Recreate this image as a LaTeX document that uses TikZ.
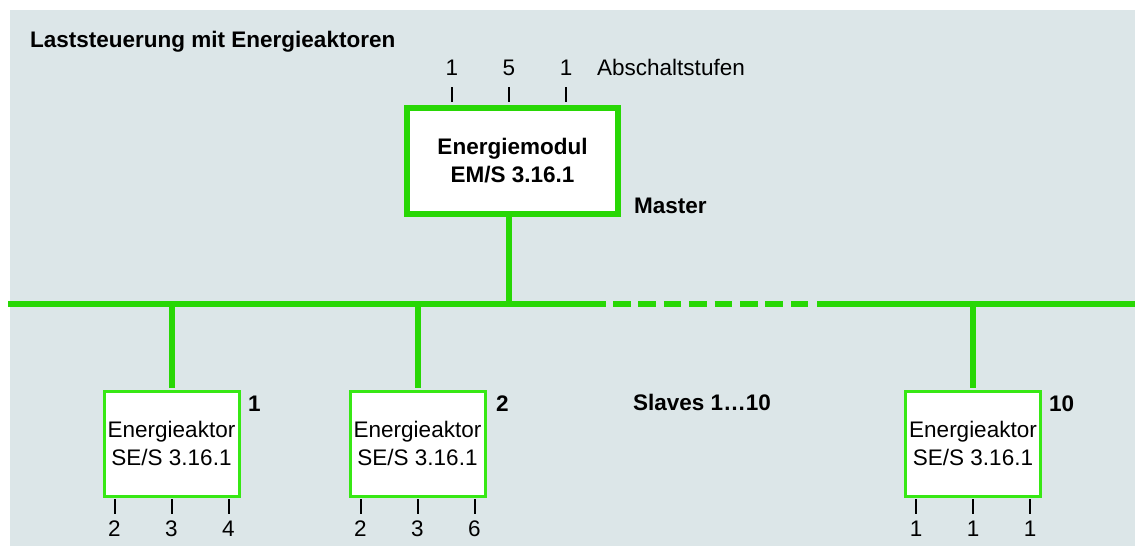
\documentclass[tikz,border=0pt]{standalone}
\usepackage{fontspec}
\setmainfont{Liberation Sans}
\definecolor{bgcol}{RGB}{220,230,232}
\definecolor{busgreen}{RGB}{40,215,5}
\definecolor{boxgreen}{RGB}{55,232,20}
\begin{document}
\begin{tikzpicture}[x=1pt,y=-1pt,
  font=\fontsize{22.5}{28}\selectfont,
  bus/.style={draw=busgreen, line width=6pt},
  dashbus/.style={draw=busgreen, line width=6pt, dash pattern=on 17.6pt off 7.8pt},
  masterbox/.style={draw=busgreen, line width=6pt, fill=white, minimum width=211pt, minimum height=106pt, inner sep=0pt, align=center, font=\fontsize{22.5}{28}\selectfont\bfseries},
  slavebox/.style={draw=boxgreen, line width=3pt, fill=white, minimum width=135pt, minimum height=105pt, inner sep=0pt, align=center},
  num/.style={inner sep=0pt, anchor=base},
  lbl/.style={inner sep=0pt, anchor=base west},
  boldlbl/.style={inner sep=0pt, anchor=base west, font=\fontsize{22.5}{28}\selectfont\bfseries},
  tick/.style={draw=black, line width=2pt}]
\useasboundingbox (0,0) rectangle (1135,547);
\fill[bgcol] (10,10) rectangle (1135,546);

% title
\node[boldlbl] (title) at (30,47) {Laststeuerung mit Energieaktoren};

% bus
\coordinate (busL) at (8,304);
\coordinate (d1) at (606,304);
\coordinate (d2a) at (613,304);
\coordinate (d2b) at (809,304);
\coordinate (d3) at (817,304);
\coordinate (busR) at (1135,304);
\draw[bus] (busL) -- (d1);
\draw[dashbus] (d2a) -- (d2b);
\draw[bus] (d3) -- (busR);

% master
\node[masterbox] (master) at (512.5,160.5) {Energiemodul\\EM/S 3.16.1};
\node[boldlbl] (masterlbl) at (634,213) {Master};
\draw[bus] ([xshift=-3.5pt]master.south) -- ([xshift=-3.5pt]master.south |- busL);

\node[num] (n1) at (452,75) {1};
\node[num] (n2) at (509,75) {5};
\node[num] (n3) at (566,75) {1};
\node[lbl] (abs) at (597,75) {Abschaltstufen};
\foreach \n in {n1,n2,n3}
  \draw[tick, shorten >=3pt] ([yshift=-12pt]\n.south) -- (\n.south |- master.north);

% slaves
\node[slavebox] (s1) at (171.5,443.5) {Energieaktor\\SE/S 3.16.1};
\node[slavebox] (s2) at (417.5,443.5) {Energieaktor\\SE/S 3.16.1};
\node[slavebox] (s3) at (973,443.5) {Energieaktor\\SE/S 3.16.1};
\foreach \s in {s1,s2,s3}
  \draw[bus, shorten >=1.5pt] (\s.north |- busL) -- (\s.north);

\node[boldlbl] (l1) at (248,411) {1};
\node[boldlbl] (l2) at (496,411) {2};
\node[boldlbl] (l3) at (1049,411) {10};
\node[boldlbl] (slaves) at (633,410) {Slaves 1…10};

% bottom numbers
\node[num] (s1a) at ([xshift=-57pt,yshift=-39pt]s1.south) {2};
\node[num] (s1b) at ([yshift=-39pt]s1.south) {3};
\node[num] (s1c) at ([xshift=57pt,yshift=-39pt]s1.south) {4};
\node[num] (s2a) at ([xshift=-57pt,yshift=-39pt]s2.south) {2};
\node[num] (s2b) at ([yshift=-39pt]s2.south) {3};
\node[num] (s2c) at ([xshift=57pt,yshift=-39pt]s2.south) {6};
\node[num] (s3a) at ([xshift=-57pt,yshift=-39pt]s3.south) {1};
\node[num] (s3b) at ([yshift=-39pt]s3.south) {1};
\node[num] (s3c) at ([xshift=57pt,yshift=-39pt]s3.south) {1};
\foreach \b/\s in {s1a/s1,s1b/s1,s1c/s1,s2a/s2,s2b/s2,s2c/s2,s3a/s3,s3b/s3,s3c/s3}
  \draw[tick, shorten <=1.5pt] (\b.north |- \s.south) -- ([yshift=7pt]\b.north);
\end{tikzpicture}
\end{document}
